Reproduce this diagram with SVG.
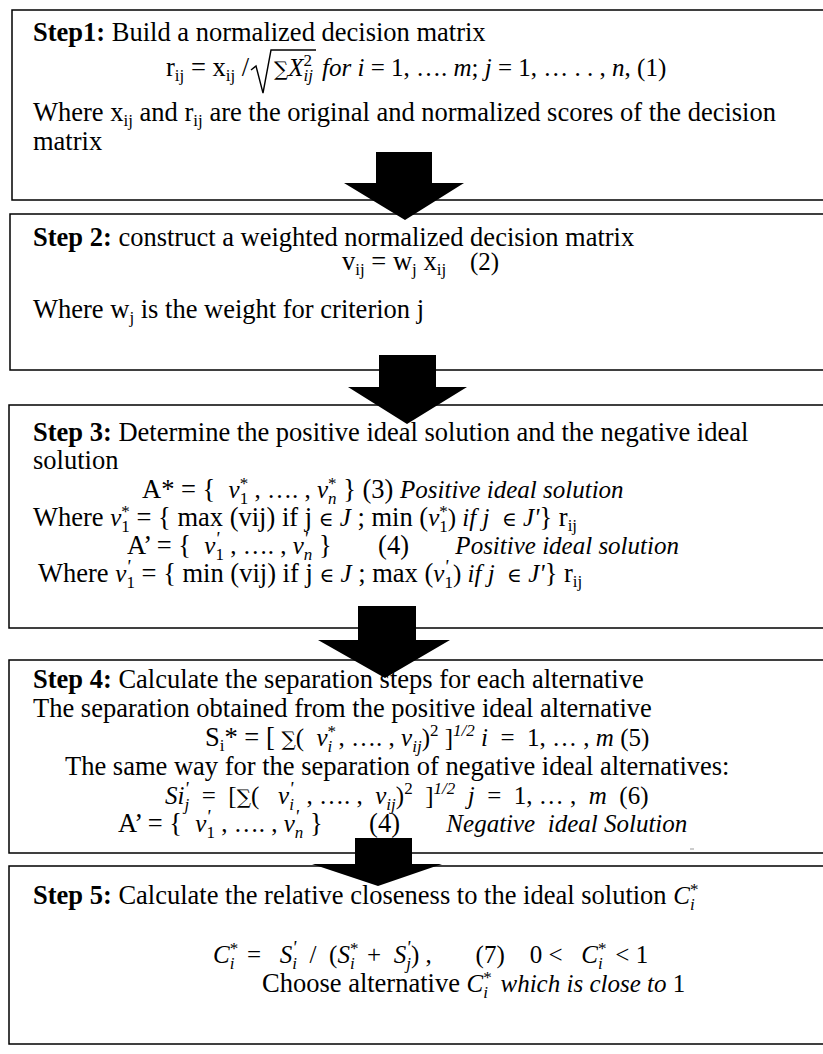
<svg xmlns="http://www.w3.org/2000/svg" width="823" height="1054" viewBox="0 0 823 1054">
<style>
text{white-space:pre}
.box{fill:#fff;stroke:#000;stroke-width:1.5}
.t{font-family:"Liberation Serif","Times New Roman",serif;font-size:26.5px;fill:#000}
.b{font-weight:bold}
.m{font-family:"Liberation Serif","Times New Roman",serif;font-style:italic;font-size:25px}
.mr{font-family:"Liberation Serif","Times New Roman",serif;font-style:normal;font-size:25px}
.d{font-family:"DejaVu Serif",serif;font-style:normal;font-size:20px}
.s{font-size:17px}
.ms{font-size:17px}
.p{font-family:"Liberation Serif","Times New Roman",serif;font-style:italic;font-size:19px}
.arrow{fill:#000}
</style>
<rect width="823" height="1054" fill="#fff"/>
<g id="step1">
<rect class="box" x="12" y="10" width="830" height="190"/>
<text class="t" x="33" y="41"><tspan class="b">Step1:</tspan> Build a normalized decision matrix</text>
<text class="t" x="166" y="76">r<tspan class="s" dy="5">ij</tspan><tspan dy="-5"> = x</tspan><tspan class="s" dy="5">ij</tspan><tspan dy="-5"> /</tspan></text>
<path d="M251 70 L256 66 L263 93 L271 50 L316 50" fill="none" stroke="#000" stroke-width="1.4"/>
<text class="mr" x="274" y="76"><tspan class="d">∑</tspan><tspan class="m">X</tspan><tspan class="ms" dy="-10">2</tspan><tspan class="m ms" dx="-8.5" dy="15">ij</tspan></text>
<text class="m" x="322" y="76">for i <tspan class="mr">= 1, …. </tspan>m<tspan class="mr">; </tspan>j <tspan class="mr">= 1, … . . , </tspan>n<tspan class="mr">, (1)</tspan></text>
<text class="t" x="33" y="121">Where x<tspan class="s" dy="5">ij</tspan><tspan dy="-5"> and r</tspan><tspan class="s" dy="5">ij</tspan><tspan dy="-5"> are the original and normalized scores of the decision</tspan></text>
<text class="t" x="33" y="150">matrix</text>
</g>
<g id="step2">
<rect class="box" x="10" y="214" width="830" height="156"/>
<text class="t" x="33" y="246"><tspan class="b">Step 2:</tspan> construct a weighted normalized decision matrix</text>
<text class="t" x="342" y="270">v<tspan class="s" dy="5">ij</tspan><tspan dy="-5"> = w</tspan><tspan class="s" dy="5">j</tspan><tspan dy="-5"> x</tspan><tspan class="s" dy="5">ij</tspan></text>
<text class="mr" x="470" y="270">(2)</text>
<text class="t" x="33" y="318">Where w<tspan class="s" dy="5">j</tspan><tspan dy="-5"> is the weight for criterion j</tspan></text>
</g>
<g id="step3">
<rect class="box" x="9" y="405" width="830" height="223"/>
<text class="t" x="33" y="441"><tspan class="b">Step 3:</tspan> Determine the positive ideal solution and the negative ideal</text>
<text class="t" x="33" y="469">solution</text>
<text class="t" x="142" y="498">A* = {  <tspan class="m">v</tspan><tspan class="mr ms" dy="-9">*</tspan><tspan class="mr ms" dx="-8.5" dy="15">1</tspan><tspan class="mr" dy="-6"> , …. , </tspan><tspan class="m">v</tspan><tspan class="mr ms" dy="-9">*</tspan><tspan class="m ms" dx="-8.5" dy="15">n</tspan><tspan dy="-6"> } (3) </tspan><tspan class="m">Positive ideal solution</tspan></text>
<text class="t" x="33" y="526">Where <tspan class="m">v</tspan><tspan class="mr ms" dy="-9">*</tspan><tspan class="mr ms" dx="-8.5" dy="15">1</tspan><tspan dy="-6"> = { max (vij) if j </tspan><tspan class="d">∈</tspan><tspan class="m"> J</tspan><tspan> ; min (</tspan><tspan class="m">v</tspan><tspan class="mr ms" dy="-9">*</tspan><tspan class="mr ms" dx="-8.5" dy="15">1</tspan><tspan class="mr" dy="-6">) </tspan><tspan class="m">if j  </tspan><tspan class="d">∈</tspan><tspan class="m"> J'</tspan><tspan>} r</tspan><tspan class="s" dy="5">ij</tspan></text>
<text class="t" x="127" y="554">A’ = {  <tspan class="m">v</tspan><tspan class="p" dy="-9">'</tspan><tspan class="mr ms" dx="-4" dy="15">1</tspan><tspan class="mr" dy="-6"> , …. , </tspan><tspan class="m">v</tspan><tspan class="p" dy="-9">'</tspan><tspan class="m ms" dx="-4" dy="15">n</tspan><tspan dy="-6"> }       (4)       </tspan><tspan class="m">Positive ideal solution</tspan></text>
<text class="t" x="38" y="582">Where <tspan class="m">v</tspan><tspan class="p" dy="-9">'</tspan><tspan class="mr ms" dx="-4" dy="15">1</tspan><tspan dy="-6"> = { min (vij) if j </tspan><tspan class="d">∈</tspan><tspan class="m"> J</tspan><tspan> ; max (</tspan><tspan class="m">v</tspan><tspan class="p" dy="-9">'</tspan><tspan class="mr ms" dx="-4" dy="15">1</tspan><tspan class="mr" dy="-6">) </tspan><tspan class="m">if j  </tspan><tspan class="d">∈</tspan><tspan class="m"> J'</tspan><tspan>} r</tspan><tspan class="s" dy="5">ij</tspan></text>
</g>
<g id="step4">
<rect class="box" x="9" y="660" width="830" height="193"/>
<text class="t" x="33" y="688"><tspan class="b">Step 4:</tspan> Calculate the separation steps for each alternative</text>
<text class="t" x="33" y="717">The separation obtained from the positive ideal alternative</text>
<text class="t" x="205" y="746">S<tspan class="s" dy="5">i</tspan><tspan dy="-5">* = [ </tspan><tspan class="d">∑</tspan><tspan class="mr">(  </tspan><tspan class="m">v</tspan><tspan class="mr ms" dy="-9">*</tspan><tspan class="m ms" dx="-8.5" dy="15">i</tspan><tspan class="mr" dy="-6"> , …. , </tspan><tspan class="m">v</tspan><tspan class="m ms" dy="6">ij</tspan><tspan class="mr" dy="-6">)</tspan><tspan class="mr ms" dy="-10">2</tspan><tspan class="mr" dy="10"> ]</tspan><tspan class="m ms" dy="-10">1/2</tspan><tspan class="m" dy="10"> i </tspan><tspan class="mr"> =  1, … , </tspan><tspan class="m">m </tspan><tspan class="mr">(5)</tspan></text>
<text class="t" x="65" y="775">The same way for the separation of negative ideal alternatives:</text>
<text class="m" x="165" y="804">Si<tspan class="p" dy="-9">'</tspan><tspan class="ms" dx="-4" dy="15">j</tspan><tspan class="mr" dy="-6">  =  [</tspan><tspan class="d">∑</tspan><tspan class="mr">(   </tspan><tspan>v</tspan><tspan class="p" dy="-9">'</tspan><tspan class="ms" dx="-4" dy="15">i</tspan><tspan class="mr" dy="-6">  , …. ,  </tspan><tspan>v</tspan><tspan class="ms" dy="6">ij</tspan><tspan class="mr" dy="-6">)</tspan><tspan class="mr ms" dy="-10">2</tspan><tspan class="mr" dy="10">  ]</tspan><tspan class="ms" dy="-10">1/2</tspan><tspan dy="10">  j  </tspan><tspan class="mr">=  1, … ,  </tspan><tspan>m  </tspan><tspan class="mr">(6)</tspan></text>
<text class="t" x="118" y="832">A’ = {  <tspan class="m">v</tspan><tspan class="p" dy="-9">'</tspan><tspan class="mr ms" dx="-4" dy="15">1</tspan><tspan class="mr" dy="-6"> , …. , </tspan><tspan class="m">v</tspan><tspan class="p" dy="-9">'</tspan><tspan class="m ms" dx="-4" dy="15">n</tspan><tspan dy="-6"> }       (4)       </tspan><tspan class="m">Negative  ideal Solution</tspan></text>
<line x1="690" y1="849" x2="694" y2="849" stroke="#999" stroke-width="1"/>
</g>
<g id="step5">
<rect class="box" x="9" y="866" width="830" height="178"/>
<text class="t" x="33" y="904"><tspan class="b">Step 5:</tspan> Calculate the relative closeness to the ideal solution <tspan class="m">C</tspan><tspan class="mr ms" dy="-9">*</tspan><tspan class="m ms" dx="-8.5" dy="15">i</tspan></text>
<text class="m" x="213" y="963">C<tspan class="mr ms" dy="-9">*</tspan><tspan class="ms" dx="-8.5" dy="15">i</tspan><tspan class="mr" dy="-6">  =   </tspan>S<tspan class="p" dy="-9">'</tspan><tspan class="ms" dx="-4" dy="15">i</tspan><tspan class="mr" dy="-6">  /  (</tspan>S<tspan class="mr ms" dy="-9">*</tspan><tspan class="ms" dx="-8.5" dy="15">i</tspan><tspan class="mr" dy="-6">  +  </tspan>S<tspan class="p" dy="-9">'</tspan><tspan class="ms" dx="-4" dy="15">j</tspan><tspan class="mr" dy="-6">) ,       (7)    0 &lt;   </tspan>C<tspan class="mr ms" dy="-9">*</tspan><tspan class="ms" dx="-8.5" dy="15">i</tspan><tspan class="mr" dy="-6">  &lt; 1</tspan></text>
<text class="t" x="262" y="992">Choose alternative <tspan class="m">C</tspan><tspan class="mr ms" dy="-9">*</tspan><tspan class="m ms" dx="-8.5" dy="15">i</tspan><tspan class="m" dy="-6">  which is close to </tspan><tspan class="mr">1</tspan></text>
</g>
<g id="connectors">
<polygon class="arrow" points="376,152 432,152 432,183 464,183 405,220 344,183 376,183"/>
<polygon class="arrow" points="379,355 436,355 436,387 467,387 407,424 348,387 379,387"/>
<polygon class="arrow" points="358,606 416,606 416,640 450,640 385,678 318,640 358,640"/>
<polygon class="arrow" points="355,838 412,838 412,864 442,864 378,886 312,864 355,864"/>
</g>
</svg>
